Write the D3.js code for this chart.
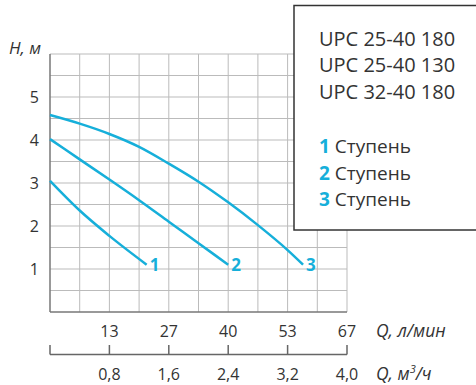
<!DOCTYPE html>
<html lang="ru">
<head>
<meta charset="utf-8">
<title>UPC pump curves</title>
<script src="https://d3js.org/d3.v7.min.js"></script>
<style>
  body { margin: 0; background: #fff; }
  svg text { font-family: "Open Sans", "Noto Sans", sans-serif; fill: #333; }
</style>
</head>
<body>
<div id="chart"></div>
<script>
var width = 476;
var height = 385;

// flow, l/min  ->  head, m
var stage1 = [[0, 3.05], [6.7, 2.36], [13.4, 1.77], [21.8, 1.1]];
var stage2 = [[0, 4.02], [6.7, 3.55], [13.4, 3.08], [20.1, 2.6], [26.8, 2.1], [33.5, 1.6], [40.2, 1.1]];
var stage3 = [[0, 4.58], [6.7, 4.38], [13.4, 4.14], [20.1, 3.84], [26.8, 3.45], [33.5, 3.03],
              [40.2, 2.55], [46.9, 2.02], [53.6, 1.44], [57.1, 1.1]];
var stages = ["1", "2", "3"];

var qTicks = [13.4, 26.8, 40.2, 53.6, 67];
var qLabels = ["13", "27", "40", "53", "67"];
var m3Ticks = [0, 0.8, 1.6, 2.4, 3.2, 4.0];
var hTicks = [1, 2, 3, 4, 5];
var models = ["UPC 25-40 180", "UPC 25-40 130", "UPC 32-40 180"];

var blue = "#16afda";
var pL = 50, pR = 347, pT = 54, pB = 312;

var svg = d3.select("#chart").append("svg")
    .attr("width", width)
    .attr("height", height);

var x = d3.scaleLinear().domain([0, 67]).range([pL, pR]);
var x2 = d3.scaleLinear().domain([0, 4.0]).range([pL, pR]);
var y = d3.scaleLinear().domain([0, 6]).range([pB, pT]);

// grid
var gx = d3.range(1, 11).map(function(i) { return i * 6.7; });
var gy = d3.range(1, 13).map(function(i) { return i * 0.5; });
svg.append("g").selectAll("line").data(gx).join("line")
    .attr("x1", function(d) { return x(d); }).attr("x2", function(d) { return x(d); })
    .attr("y1", pT).attr("y2", pB)
    .attr("stroke", "#bbb").attr("stroke-width", 1);
svg.append("g").selectAll("line").data(gy).join("line")
    .attr("x1", pL).attr("x2", pR)
    .attr("y1", function(d) { return y(d); }).attr("y2", function(d) { return y(d); })
    .attr("stroke", "#bbb").attr("stroke-width", 1);

// axes lines
svg.append("line").attr("x1", pL).attr("x2", pL).attr("y1", pT).attr("y2", pB)
    .attr("stroke", "#777").attr("stroke-width", 1.5);
svg.append("line").attr("x1", pL).attr("x2", pR).attr("y1", pB).attr("y2", pB)
    .attr("stroke", "#777").attr("stroke-width", 1.5);

// y labels
svg.append("g").selectAll("text").data(hTicks).join("text")
    .attr("x", 39).attr("y", function(d) { return y(d); })
    .attr("dy", "0.36em").attr("text-anchor", "end")
    .style("font-size", "16px")
    .text(function(d) { return d; });
svg.append("text").attr("x", 41).attr("y", 53.5).attr("text-anchor", "end")
    .style("font-size", "17px").style("font-style", "italic").text("H, м");

// top flow axis labels (l/min)
svg.append("g").selectAll("text").data(qTicks).join("text")
    .attr("x", function(d) { return x(d); }).attr("y", 336.5)
    .attr("text-anchor", "middle").style("font-size", "16px")
    .text(function(d, i) { return qLabels[i]; });
svg.append("text").attr("x", 376).attr("y", 336.5)
    .style("font-size", "17.5px").style("font-style", "italic").text("Q, л/мин");

// second axis (m3/h)
var ax2 = svg.append("g").attr("transform", "translate(0,354.5)");
ax2.append("line").attr("x1", pL).attr("x2", pR).attr("stroke", "#666").attr("stroke-width", 1.5);
ax2.selectAll("line.t").data(m3Ticks).join("line").attr("class", "t")
    .attr("x1", function(d) { return x2(d); }).attr("x2", function(d) { return x2(d); })
    .attr("y1", 0).attr("y2", -9.5)
    .attr("stroke", "#666").attr("stroke-width", 1.5);
ax2.selectAll("text").data(m3Ticks.slice(1)).join("text")
    .attr("x", function(d) { return x2(d); }).attr("y", 25.5)
    .attr("text-anchor", "middle").style("font-size", "16px")
    .text(function(d) { return d.toFixed(1).replace(".", ","); });
var t2 = svg.append("text").attr("x", 376).attr("y", 380)
    .style("font-size", "17.5px").style("font-style", "italic");
t2.append("tspan").text("Q, м");
t2.append("tspan").attr("dy", -7).style("font-size", "11px").text("3");
t2.append("tspan").attr("dy", 7).text("/ч");

// curves
var line = d3.line()
    .x(function(d) { return x(d[0]); })
    .y(function(d) { return y(d[1]); })
    .curve(d3.curveMonotoneX);
var curves = [stage1, stage2, stage3];
svg.append("g").selectAll("path").data(curves).join("path")
    .attr("d", line)
    .attr("fill", "none").attr("stroke", blue).attr("stroke-width", 2.5);
svg.append("g").selectAll("text").data(curves).join("text")
    .attr("x", function(d) { return x(d[d.length - 1][0]) + 3; })
    .attr("y", function(d) { return y(d[d.length - 1][1]); })
    .attr("dy", "0.36em")
    .style("font-size", "17px").style("font-weight", "bold").style("fill", blue)
    .text(function(d, i) { return stages[i]; });

// legend box
svg.append("rect").attr("x", 294).attr("y", 5.5).attr("width", 200).attr("height", 224.5)
    .attr("fill", "#fff").attr("stroke", "#333").attr("stroke-width", 1.5);
svg.append("g").selectAll("text").data(models).join("text")
    .attr("x", 319).attr("y", function(d, i) { return 45.5 + i * 26.7; })
    .style("font-size", "20px").text(function(d) { return d; });
var lg = svg.append("g").selectAll("text").data(stages).join("text")
    .attr("x", 319).attr("y", function(d, i) { return 153.3 + i * 26.3; })
    .style("font-size", "19px");
lg.append("tspan").style("fill", blue).style("font-weight", "bold").text(function(d) { return d; });
lg.append("tspan").text(" Ступень");
</script>
</body>
</html>
